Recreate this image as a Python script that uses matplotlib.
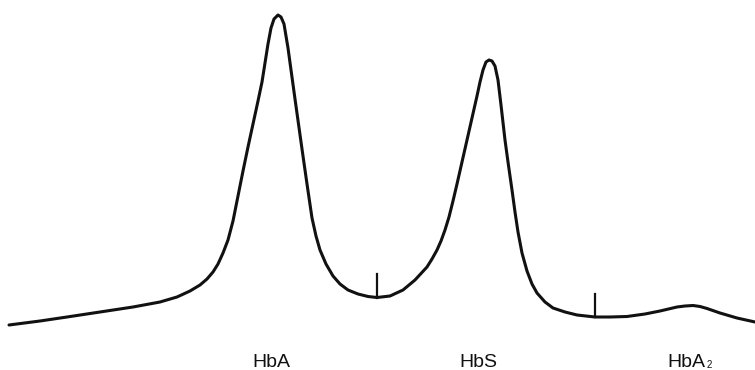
import numpy as np
import matplotlib
matplotlib.use('Agg')
import matplotlib.pyplot as plt

plt.rcParams['font.family'] = ['Liberation Sans', 'DejaVu Sans']

# densitometer trace (position, pixel row of the line)
position = [9, 40, 67, 100, 133, 160, 177, 190, 200, 207, 213, 218, 223, 228,
            233, 238, 243, 248, 253, 258, 262, 265, 268, 271, 274, 278, 281,
            284, 288, 295, 302, 307, 312, 316, 320, 326, 333, 340, 348, 358,
            368, 377, 390, 403, 415, 427, 432, 437, 441, 445, 449, 453, 457,
            462, 467, 472, 477, 480, 483, 486, 489, 492, 495, 498, 501, 505,
            508, 512, 515, 518, 522, 527, 532, 537, 545, 553, 565, 577, 595,
            610, 627, 645, 660, 677, 685, 693, 700, 707, 720, 737, 755]
trace_px = [325, 321, 317, 312, 307, 302, 297, 291, 285, 279, 272, 264, 253,
            240, 221, 196, 171, 147, 124, 101, 82, 63, 44, 28, 19, 15, 17, 24,
            48, 99, 149, 184, 218, 236, 250, 264, 276, 284, 290, 294, 296.5,
            297.5, 296, 290, 280, 267, 259, 250, 241, 230, 217, 201, 184, 162,
            140, 118, 96, 82, 70, 62, 60, 61, 66, 80, 105, 140, 162, 190, 212,
            232, 253, 271, 284, 293, 302, 308, 312, 315, 317, 317, 316.5, 314,
            311, 307, 306, 305.5, 306.5, 308.5, 313, 318, 322]
height = [370 - v for v in trace_px]

# fraction split marks
mark_pos = [377, 595]
mark_len = [24, 23]

# peak labels
labels = ['HbA', 'HbS', 'HbA']
label_sub = ['', '', '2']
label_pos = [271, 478, 686]

fig = plt.figure(figsize=(7.55, 3.70), dpi=100)
ax = fig.add_axes([0, 0, 1, 1])

ax.plot(position, height, color='#111111', lw=2.2, solid_capstyle='round',
        solid_joinstyle='round')

for xm, ln in zip(mark_pos, mark_len):
    base = np.interp(xm, position, height)
    ax.plot([xm, xm], [base, base + ln], color='#111111', lw=1.6)

for lab, sub, xl in zip(labels, label_sub, label_pos):
    ax.text(xl, 3, lab, ha='center', va='baseline', fontsize=14, color='#111111')
    if sub:
        ax.annotate(sub, xy=(xl, 3), xytext=(14.5, -1), textcoords='offset points',
                    ha='left', va='baseline', fontsize=7, color='#111111')

ax.set_xlim(0, 755)
ax.set_ylim(0, 370)
ax.axis('off')

fig.savefig('out.png', dpi=100, facecolor='white')
